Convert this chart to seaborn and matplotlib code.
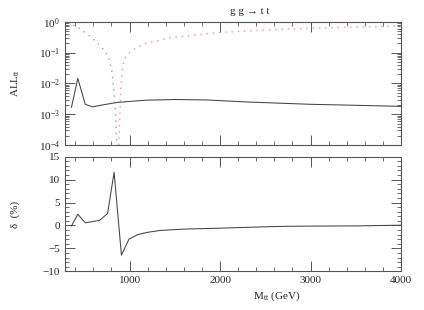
import numpy as np
import pandas as pd
import matplotlib
matplotlib.use("Agg")
import matplotlib.pyplot as plt
import matplotlib.ticker as mticker
import seaborn as sns

# upper panel: asymmetry ALL_tt (log scale)
m_all = [357, 428, 510, 590, 700, 857, 1000, 1180, 1500, 1860, 2290, 3000, 3500, 4000]
all_tt = [1.66e-3, 1.45e-2, 2.1e-3, 1.74e-3, 2.0e-3, 2.4e-3, 2.6e-3, 2.85e-3, 3.0e-3, 2.9e-3, 2.5e-3, 2.1e-3, 1.95e-3, 1.8e-3]

# dotted curves (tree-level parts)
m_gray = [374, 450, 520, 590, 697, 768, 803, 830, 848, 858]
v_gray = [0.78, 0.6, 0.42, 0.29, 0.14, 0.073, 0.027, 0.005, 6e-4, 1e-4]
m_pink = [880, 892, 905, 925, 946, 1000, 1070, 1180, 1440, 2000, 2500, 3000, 3500, 4000]
v_pink = [1e-4, 8e-4, 8e-3, 0.035, 0.065, 0.1, 0.14, 0.2, 0.3, 0.45, 0.54, 0.61, 0.67, 0.72]

# lower panel: relative correction delta (%)
m_delta = [357, 428, 510, 668, 757, 829, 910, 993, 1090, 1200, 1335, 1600, 2000, 2160, 2500, 2700, 3000, 3500, 4000]
delta = [-0.15, 2.45, 0.57, 1.1, 2.6, 11.6, -6.5, -3.0, -2.0, -1.5, -1.1, -0.8, -0.6, -0.5, -0.3, -0.2, -0.15, -0.1, 0.05]

sns.set_style("ticks")
plt.rcParams["font.family"] = ["Liberation Serif", "DejaVu Serif"]
plt.rcParams["mathtext.fontset"] = "stix"
plt.rcParams["font.size"] = 8

fig = plt.figure(figsize=(4.24, 3.10), dpi=100)
ax1 = fig.add_axes([0.153, 0.532, 0.793, 0.398])
ax2 = fig.add_axes([0.153, 0.125, 0.793, 0.3695])

edge = "#555555"
sns.lineplot(x=m_gray, y=v_gray, ax=ax1, color="#a0a0a0", linestyle=(0, (1, 3.5)), linewidth=1.0)
sns.lineplot(x=m_pink, y=v_pink, ax=ax1, color="#ff9090", linestyle=(0, (1, 3.5)), linewidth=1.0)
sns.lineplot(x=m_all, y=all_tt, ax=ax1, color="#444444", linewidth=0.75)
ax1.set_yscale("log")
ax1.set_ylim(1e-4, 1)
sns.lineplot(x=m_delta, y=delta, ax=ax2, color="#444444", linewidth=0.75)
ax2.set_ylim(-10, 15)

for ax in (ax1, ax2):
    ax.set_xlim(285, 4000)
    ax.xaxis.set_major_locator(mticker.MultipleLocator(1000))
    ax.xaxis.set_minor_locator(mticker.MultipleLocator(200))
    ax.tick_params(which="both", direction="in", top=True, right=True, color=edge, labelsize=8)
    ax.tick_params(which="major", length=7, width=0.7)
    ax.tick_params(which="minor", length=3, width=0.6)
    for s in ax.spines.values():
        s.set_color(edge)
        s.set_linewidth(0.8)

ax1.yaxis.set_major_locator(mticker.LogLocator(base=10, numticks=10))
ax1.yaxis.set_minor_locator(mticker.LogLocator(base=10, subs=np.arange(2, 10), numticks=10))
ax1.yaxis.set_major_formatter(mticker.LogFormatterMathtext())
ax1.set_xticklabels([])
ax2.yaxis.set_major_locator(mticker.MultipleLocator(5))
ax2.yaxis.set_minor_locator(mticker.MultipleLocator(1))

ax1.set_ylabel(r"ALL$_{\mathregular{tt}}$", fontsize=8, labelpad=12)
ax2.set_ylabel("δ  (%)", fontsize=8, labelpad=16)
ax1.set_xlabel("")
ax2.set_xlabel("")
fig.text(0.653, 0.035, r"M$_{\mathregular{tt}}$ (GeV)", fontsize=8, ha="center")
fig.text(0.59, 0.978, "g g → t t", fontsize=8, ha="center", va="top")

fig.savefig("out.png", dpi=100)
